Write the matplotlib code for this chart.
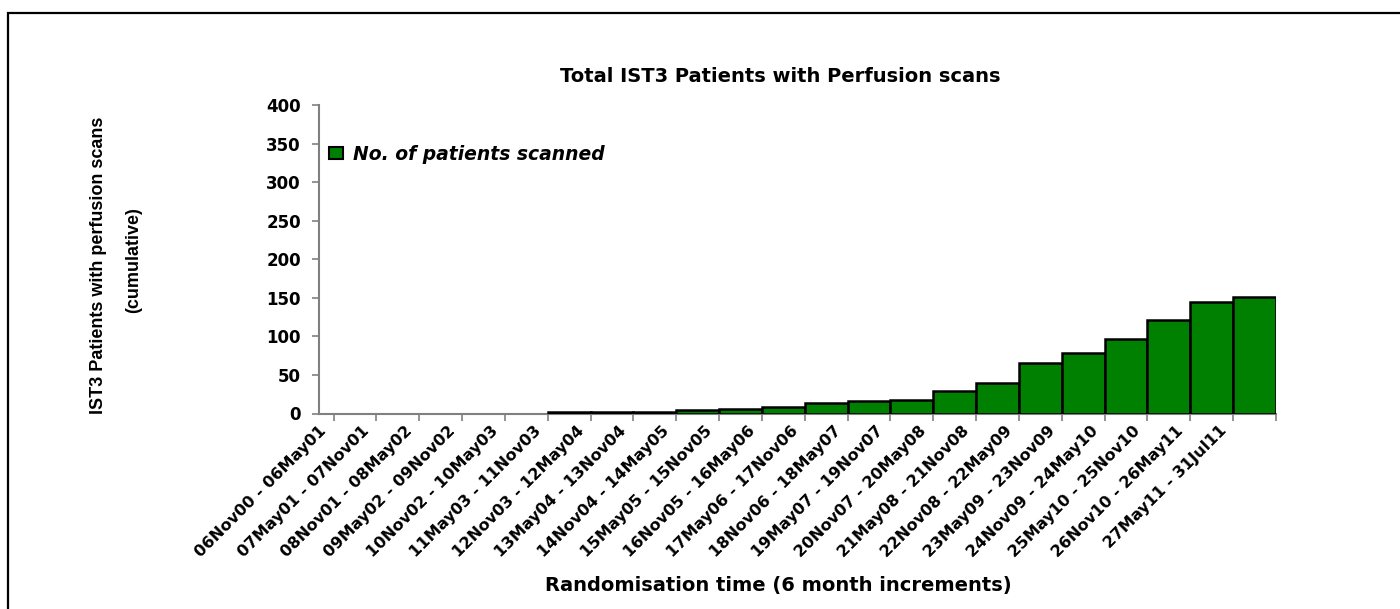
import matplotlib
matplotlib.use("Agg")
import matplotlib.pyplot as plt
from matplotlib.patches import Rectangle
import numpy as np

categories = [
    "06Nov00 - 06May01", "07May01 - 07Nov01", "08Nov01 - 08May02",
    "09May02 - 09Nov02", "10Nov02 - 10May03", "11May03 - 11Nov03",
    "12Nov03 - 12May04", "13May04 - 13Nov04", "14Nov04 - 14May05",
    "15May05 - 15Nov05", "16Nov05 - 16May06", "17May06 - 17Nov06",
    "18Nov06 - 18May07", "19May07 - 19Nov07", "20Nov07 - 20May08",
    "21May08 - 21Nov08", "22Nov08 - 22May09", "23May09 - 23Nov09",
    "24Nov09 - 24May10", "25May10 - 25Nov10", "26Nov10 - 26May11",
    "27May11 - 31Jul11",
]
patients_scanned = [0, 0, 0, 0, 0, 2, 2, 2, 4, 6, 8, 14, 16, 18, 29, 40,
                    66, 78, 96, 121, 145, 151]
y_ticks = [0, 50, 100, 150, 200, 250, 300, 350, 400]

title = "Total IST3 Patients with Perfusion scans"
xlabel = "Randomisation time (6 month increments)"
ylabel_lines = ["IST3 Patients with perfusion scans", "(cumulative)"]
legend_label = "No. of patients scanned"

W, H = 1400, 609
fig = plt.figure(figsize=(W / 100, H / 100), dpi=100)
fig.patch.set_facecolor("white")

# outer frame (cut by the figure edges on right and bottom)
fig.patches.append(Rectangle((8 / W, -0.2), 1.2, 1 - 13 / H + 0.2,
                             transform=fig.transFigure, fill=False,
                             edgecolor="black", linewidth=1.6))

left, right = 319 / W, 1276 / W
bottom, top = 1 - 413.5 / H, 1 - 105 / H
ax = fig.add_axes([left, bottom, right - left, top - bottom])

x = np.arange(len(categories))
lws = [1.8 if v > 0 else 0 for v in patients_scanned]
ax.bar(x, patients_scanned, width=1.0, color="#008000",
       edgecolor="black", linewidth=lws, label=legend_label, zorder=2)

ax.set_xlim(-0.5, len(categories) - 0.5)
ax.set_ylim(0, 400)
ax.set_yticks(y_ticks)
ax.set_yticklabels([str(t) for t in y_ticks], fontfamily="DejaVu Sans",
                   fontweight="bold", fontsize=12)

for s in ["top", "right"]:
    ax.spines[s].set_visible(False)
for s in ["left", "bottom"]:
    ax.spines[s].set_color("#808080")
    ax.spines[s].set_linewidth(1.5)
    ax.spines[s].set_zorder(1)

ax.tick_params(axis="y", which="major", direction="out", length=5,
               width=1.2, color="#808080", pad=8)

# tick marks at category boundaries, labels via minor ticks
ax.set_xticks(np.arange(len(categories) + 1) - 0.5)
ax.set_xticklabels([])
ax.tick_params(axis="x", which="major", direction="out", length=5,
               width=1.2, color="#808080")
ax.set_xticks(x - 0.84, minor=True)
ax.set_xticklabels(categories, minor=True, fontfamily="DejaVu Sans",
                   fontweight="bold", fontsize=11.5)
ax.tick_params(axis="x", which="minor", length=0, pad=7)
for lbl in ax.get_xticklabels(minor=True):
    lbl.set_rotation(45)
    lbl.set_ha("right")
    lbl.set_va("top")
    lbl.set_rotation_mode("anchor")

leg = ax.legend(loc="center left", bbox_to_anchor=(10 / 957, 0.84),
                frameon=False, borderpad=0, borderaxespad=0,
                handlelength=0.75, handleheight=0.6, handletextpad=0.55,
                prop={"family": "DejaVu Sans", "weight": "bold",
                      "style": "italic", "size": 13.5})
for h in leg.legend_handles:
    h.set_edgecolor("black")
    h.set_linewidth(1.5)

fig.text(780 / W, 1 - 77 / H, title, ha="center", va="center",
         fontfamily="DejaVu Sans", fontweight="bold", fontsize=14)
fig.text(778 / W, 1 - 585 / H, xlabel, ha="center", va="center",
         fontfamily="DejaVu Sans", fontweight="bold", fontsize=14)
fig.text(99 / W, 1 - 265 / H, ylabel_lines[0], ha="center", va="center",
         rotation=90, fontfamily="Liberation Sans", fontweight="bold",
         fontsize=13)
fig.text(134 / W, 1 - 260 / H, ylabel_lines[1], ha="center", va="center",
         rotation=90, fontfamily="Liberation Sans", fontweight="bold",
         fontsize=13)

fig.savefig("out.png", dpi=100, facecolor="white")
